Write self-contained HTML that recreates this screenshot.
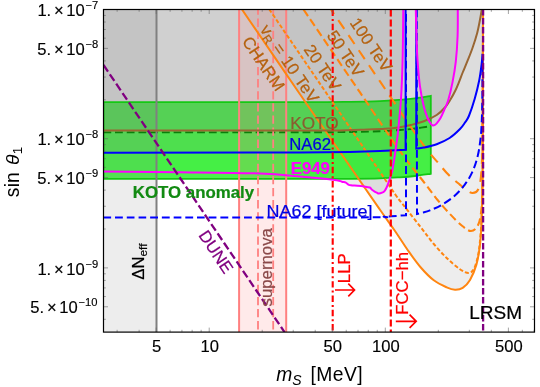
<!DOCTYPE html>
<html><head><meta charset="utf-8"><title>plot</title>
<style>html,body{margin:0;padding:0;background:#fff}svg{display:block;will-change:transform}</style></head>
<body>
<svg width="540" height="387" viewBox="0 0 540 387" font-family="'Liberation Sans', sans-serif">
<defs><clipPath id="c"><rect x="103.5" y="9.5" width="431" height="322.6"/></clipPath></defs>
<rect width="540" height="387" fill="#fff"/>
<g clip-path="url(#c)">
<g fill="#808080" fill-opacity="0.147">
<path d="M103.5 9.5L103.5 171.5C116.25 171.62 153.92 171.87 180 172.2C206.08 172.53 240 172.78 260 173.5C280 174.22 290 175.7 300 176.5C310 177.3 315.83 177.92 320 178.3C324.17 178.68 322.87 178.57 325 178.8C327.13 179.03 330.63 179.43 332.8 179.7C334.97 179.97 336.48 180.07 338 180.4C339.52 180.73 340.6 181.33 341.9 181.7C343.2 182.07 344.73 182.13 345.8 182.6C346.87 183.07 347.45 184.05 348.3 184.5C349.15 184.95 349.38 185.08 350.9 185.3C352.42 185.52 355.23 185.6 357.4 185.8C359.57 186 361.85 186.22 363.9 186.5C365.95 186.78 368.4 187 369.7 187.5C371 188 370.93 188.85 371.7 189.5C372.47 190.15 373.43 190.87 374.3 191.4C375.17 191.93 376.15 192.33 376.9 192.7C377.65 193.07 377.93 193.6 378.8 193.6C379.67 193.6 381.12 193.17 382.1 192.7C383.08 192.23 383.95 191.67 384.7 190.8C385.45 189.93 385.95 188.92 386.6 187.5C387.25 186.08 387.95 184.13 388.6 182.3C389.25 180.47 389.87 178.55 390.5 176.5C391.13 174.45 391.78 172.87 392.4 170C393.02 167.13 393.55 163.47 394.2 159.3C394.85 155.13 395.67 149.55 396.3 145C396.93 140.45 397.22 139.7 398 132C398.78 124.3 400.23 110.8 401 98.8C401.77 86.8 402.22 74.88 402.6 60C402.98 45.12 403.18 17.92 403.3 9.5Z"/>
<path d="M415.8 9.5C415.93 14.58 416.32 31.58 416.6 40C416.88 48.42 416.95 52.37 417.5 60C418.05 67.63 418.85 78.05 419.9 85.8C420.95 93.55 422.52 101.13 423.8 106.5C425.08 111.87 426.32 114.98 427.6 118C428.88 121.02 430.43 123.38 431.5 124.6C432.57 125.82 433.13 125.52 434 125.3C434.87 125.08 435.62 124.52 436.7 123.3C437.78 122.08 439.28 120.13 440.5 118C441.72 115.87 442.72 113.47 444 110.5C445.28 107.53 446.78 104.88 448.2 100.2C449.62 95.52 451.23 88.82 452.5 82.4C453.77 75.98 454.95 69.43 455.8 61.7C456.65 53.97 457.27 44.7 457.6 36C457.93 27.3 457.77 13.92 457.8 9.5Z"/>
<path d="M242 9.5C251.67 23.62 281.5 67.32 300 94.2C318.5 121.08 339.67 151.53 353 170.8C366.33 190.07 373 199.77 380 209.8C387 219.83 390.33 224.22 395 231C399.67 237.78 403.7 244.42 408 250.5C412.3 256.58 416.5 262.53 420.8 267.5C425.1 272.47 429.48 277 433.8 280.3C438.12 283.6 443.17 285.73 446.7 287.3C450.23 288.87 452.33 289.6 455 289.7C457.67 289.8 460.2 289.52 462.7 287.9C465.2 286.28 467.72 283.88 470 280C472.28 276.12 474.77 270.18 476.4 264.6C478.03 259.02 478.97 252.97 479.8 246.5C480.63 240.03 481 233.55 481.4 225.8C481.8 218.05 481.97 212.63 482.2 200C482.43 187.37 482.67 181.75 482.8 150C482.93 118.25 482.97 32.92 483 9.5Z"/>
</g>
<path d="M103.5 102.2C136.25 102.18 258.92 102.17 300 102.1C341.08 102.03 336.67 101.97 350 101.8C363.33 101.63 371.67 101.43 380 101.1C388.33 100.77 394.17 100.27 400 99.8C405.83 99.33 409.87 98.95 415 98.3C420.13 97.65 428.17 96.3 430.8 95.9L430.8 173.8C428.17 174.17 420.13 175.42 415 176C409.87 176.58 405.83 176.9 400 177.3C394.17 177.7 388.33 178.15 380 178.4C371.67 178.65 363.33 178.72 350 178.8C336.67 178.88 341.08 178.88 300 178.9C258.92 178.92 136.25 178.9 103.5 178.9Z" fill="#00f000" fill-opacity="0.71"/>
<g fill="#808080" fill-opacity="0.147">
<path d="M103.5 9.5L103.5 152.8L300 152.5L350 152L380 151.1L405.6 149.8L405.6 9.5Z"/>
<path d="M416.5 9.5L416.3 148.6C417.55 148.43 420.4 148.33 423.8 147.6C427.2 146.87 432.4 145.8 436.7 144.2C441 142.6 445.72 140.53 449.6 138C453.48 135.47 457.43 131.58 460 129C462.57 126.42 463.52 124.67 465 122.5C466.48 120.33 467.27 120 468.9 116C470.53 112 473.07 104.5 474.8 98.5C476.53 92.5 478.17 85.7 479.3 80C480.43 74.3 481.07 68.65 481.6 64.3C482.13 59.95 482.35 55.63 482.5 53.9L482.5 9.5Z"/>
<path d="M103.5 9.5L103.5 130.6C136.25 130.6 260.58 130.63 300 130.6C339.42 130.57 330 130.55 340 130.4C350 130.25 352.5 129.97 360 129.7C367.5 129.43 378.33 129.22 385 128.8C391.67 128.38 395.7 127.83 400 127.2C404.3 126.57 406.83 125.98 410.8 125C414.77 124.02 419.48 122.97 423.8 121.3C428.12 119.63 433.1 117.38 436.7 115C440.3 112.62 443.08 109.62 445.4 107C447.72 104.38 449 101.92 450.6 99.3C452.2 96.68 453.72 93.88 455 91.3C456.28 88.72 457.02 86.93 458.3 83.8C459.58 80.67 461.18 76.27 462.7 72.5C464.22 68.73 465.77 65.28 467.4 61.2C469.03 57.12 470.87 52.7 472.5 48C474.13 43.3 475.97 37.62 477.2 33C478.43 28.38 479.13 24.22 479.9 20.3C480.67 16.38 481.48 11.3 481.8 9.5Z"/>
<rect x="103.5" y="9.5" width="52.7" height="322.6"/>
</g>
<rect x="239.1" y="9.5" width="47.1" height="322.6" fill="#ff8080" fill-opacity="0.17"/>
<path d="M103.5 102.2C136.25 102.18 258.92 102.17 300 102.1C341.08 102.03 336.67 101.97 350 101.8C363.33 101.63 371.67 101.43 380 101.1C388.33 100.77 394.17 100.27 400 99.8C405.83 99.33 409.87 98.95 415 98.3C420.13 97.65 428.17 96.3 430.8 95.9L430.8 173.8C428.17 174.17 420.13 175.42 415 176C409.87 176.58 405.83 176.9 400 177.3C394.17 177.7 388.33 178.15 380 178.4C371.67 178.65 363.33 178.72 350 178.8C336.67 178.88 341.08 178.88 300 178.9C258.92 178.92 136.25 178.9 103.5 178.9Z" fill="none" stroke="#14c814" stroke-width="1.8"/>
<path d="M103.5 132.4C136.25 132.38 258.92 132.37 300 132.3C341.08 132.23 336.67 132.17 350 132C363.33 131.83 371.67 131.63 380 131.3C388.33 130.97 394.17 130.47 400 130C405.83 129.53 409.87 129.15 415 128.5C420.13 127.85 428.17 126.5 430.8 126.1" fill="none" stroke="#0a800a" stroke-width="1.9" stroke-dasharray="7.8 3.9"/>
<line x1="239.1" y1="9.5" x2="239.1" y2="332.1" stroke="#ff8080" stroke-width="2"/>
<line x1="286.2" y1="9.5" x2="286.2" y2="332.1" stroke="#ff8080" stroke-width="2"/>
<line x1="258" y1="9.5" x2="258" y2="332.1" stroke="#ff8080" stroke-width="1.8" stroke-dasharray="8.3 3.8" stroke-dashoffset="3"/>
<line x1="273.2" y1="9.5" x2="273.2" y2="332.1" stroke="#ff8080" stroke-width="1.8" stroke-dasharray="8.3 3.8" stroke-dashoffset="3"/>
<line x1="156.5" y1="9.5" x2="156.5" y2="332.1" stroke="#808080" stroke-width="2"/>
<path d="M242 9.5C251.67 23.62 281.5 67.32 300 94.2C318.5 121.08 339.67 151.53 353 170.8C366.33 190.07 373 199.77 380 209.8C387 219.83 390.33 224.22 395 231C399.67 237.78 403.7 244.42 408 250.5C412.3 256.58 416.5 262.53 420.8 267.5C425.1 272.47 429.48 277 433.8 280.3C438.12 283.6 443.17 285.73 446.7 287.3C450.23 288.87 452.33 289.6 455 289.7C457.67 289.8 460.2 289.52 462.7 287.9C465.2 286.28 467.72 283.88 470 280C472.28 276.12 474.77 270.18 476.4 264.6C478.03 259.02 478.97 252.97 479.8 246.5C480.63 240.03 481 233.55 481.4 225.8C481.8 218.05 481.97 212.63 482.2 200C482.43 187.37 482.67 181.75 482.8 150C482.93 118.25 482.97 32.92 483 9.5" fill="none" stroke="#ff8510" stroke-width="2"/>
<path d="M269.4 9.5C279.5 24.33 311.57 71.4 330 98.46C348.43 125.52 369 155.69 380 171.86C391 188.03 391.78 189.56 396 195.5C400.22 201.44 401.17 202.2 405.3 207.5C409.43 212.8 416.05 221.22 420.8 227.3C425.55 233.38 429.48 238.88 433.8 244C438.12 249.12 442.4 253.83 446.7 258C451 262.17 455.95 266.5 459.6 269C463.25 271.5 466.23 273 468.6 273C470.97 273 472.32 271.5 473.8 269C475.28 266.5 476.53 262 477.5 258C478.47 254 478.95 251 479.6 245C480.25 239 480.95 231.17 481.4 222C481.85 212.83 482.07 207 482.3 190C482.53 173 482.68 150.08 482.8 120C482.92 89.92 482.97 27.92 483 9.5" fill="none" stroke="#ff8510" stroke-width="2" stroke-dasharray="4 2.2"/>
<path d="M303.5 9.5C312.92 23.32 343.92 68.83 360 92.44C376.08 116.05 389.17 135.99 400 151.16C410.83 166.34 418.73 175.36 425 183.5C431.27 191.64 433.6 195.08 437.6 200C441.6 204.92 444.93 208.7 449 213C453.07 217.3 458.33 222.8 462 225.8C465.67 228.8 468.38 231 471 231C473.62 231 476.03 228.8 477.7 225.8C479.37 222.8 480.23 218.97 481 213C481.77 207.03 482 205.5 482.3 190C482.6 174.5 482.68 150.08 482.8 120C482.92 89.92 482.97 27.92 483 9.5" fill="none" stroke="#ff8510" stroke-width="2.1" stroke-dasharray="8 4"/>
<path d="M331 9.5C339.17 21.49 365 59.41 380 81.43C395 103.45 411 127.69 421 141.62C431 155.55 435.28 159.34 440 165C444.72 170.66 446 172.33 449.3 175.6C452.6 178.87 457.02 182.28 459.8 184.6C462.58 186.92 463.88 188.1 466 189.5C468.12 190.9 470.45 193.08 472.5 193C474.55 192.92 476.8 192.83 478.3 189C479.8 185.17 480.78 181.5 481.5 170C482.22 158.5 482.35 146.75 482.6 120C482.85 93.25 482.93 27.92 483 9.5" fill="none" stroke="#ff8510" stroke-width="2.1" stroke-dasharray="10.6 7.5" stroke-dashoffset="5"/>
<path d="M103.5 130.6C136.25 130.6 260.58 130.63 300 130.6C339.42 130.57 330 130.55 340 130.4C350 130.25 352.5 129.97 360 129.7C367.5 129.43 378.33 129.22 385 128.8C391.67 128.38 395.7 127.83 400 127.2C404.3 126.57 406.83 125.98 410.8 125C414.77 124.02 419.48 122.97 423.8 121.3C428.12 119.63 433.1 117.38 436.7 115C440.3 112.62 443.08 109.62 445.4 107C447.72 104.38 449 101.92 450.6 99.3C452.2 96.68 453.72 93.88 455 91.3C456.28 88.72 457.02 86.93 458.3 83.8C459.58 80.67 461.18 76.27 462.7 72.5C464.22 68.73 465.77 65.28 467.4 61.2C469.03 57.12 470.87 52.7 472.5 48C474.13 43.3 475.97 37.62 477.2 33C478.43 28.38 479.13 24.22 479.9 20.3C480.67 16.38 481.48 11.3 481.8 9.5" fill="none" stroke="#996633" stroke-width="2"/>
<path d="M103.5 217.5C146.25 217.48 313.08 217.55 360 217.4C406.92 217.25 377.33 216.97 385 216.6C392.67 216.23 402.5 215.43 406 215.2L406 9.5" fill="none" stroke="#0000ff" stroke-width="2" stroke-dasharray="7.8 3.9"/>
<path d="M416.7 9.5L417 214C418 213.77 420.83 213.22 423 212.6C425.17 211.98 426.92 211.57 430 210.3C433.08 209.03 437.43 207.38 441.5 205C445.57 202.62 450.52 199.4 454.4 196C458.28 192.6 461.78 188.65 464.8 184.6C467.82 180.55 470.35 176.47 472.5 171.7C474.65 166.93 476.4 161.17 477.7 156C479 150.83 479.65 145.87 480.3 140.7C480.95 135.53 481.27 131.78 481.6 125C481.93 118.22 482.15 110.83 482.3 100C482.45 89.17 482.47 66.67 482.5 60" fill="none" stroke="#0000ff" stroke-width="2" stroke-dasharray="7.8 3.9"/>
<path d="M103.5 152.8L300 152.5L350 152L380 151.1L405.6 149.8L405.6 9.5" fill="none" stroke="#0000ff" stroke-width="2" stroke-linejoin="miter"/>
<path d="M416.3 9.5L416.3 148.6C417.55 148.43 420.4 148.33 423.8 147.6C427.2 146.87 432.4 145.8 436.7 144.2C441 142.6 445.72 140.53 449.6 138C453.48 135.47 457.43 131.58 460 129C462.57 126.42 463.52 124.67 465 122.5C466.48 120.33 467.27 120 468.9 116C470.53 112 473.07 104.5 474.8 98.5C476.53 92.5 478.17 85.7 479.3 80C480.43 74.3 481.07 68.65 481.6 64.3C482.13 59.95 482.35 55.63 482.5 53.9" fill="none" stroke="#0000ff" stroke-width="2"/>
<path d="M103.5 171.5C116.25 171.62 153.92 171.87 180 172.2C206.08 172.53 240 172.78 260 173.5C280 174.22 290 175.7 300 176.5C310 177.3 315.83 177.92 320 178.3C324.17 178.68 322.87 178.57 325 178.8C327.13 179.03 330.63 179.43 332.8 179.7C334.97 179.97 336.48 180.07 338 180.4C339.52 180.73 340.6 181.33 341.9 181.7C343.2 182.07 344.73 182.13 345.8 182.6C346.87 183.07 347.45 184.05 348.3 184.5C349.15 184.95 349.38 185.08 350.9 185.3C352.42 185.52 355.23 185.6 357.4 185.8C359.57 186 361.85 186.22 363.9 186.5C365.95 186.78 368.4 187 369.7 187.5C371 188 370.93 188.85 371.7 189.5C372.47 190.15 373.43 190.87 374.3 191.4C375.17 191.93 376.15 192.33 376.9 192.7C377.65 193.07 377.93 193.6 378.8 193.6C379.67 193.6 381.12 193.17 382.1 192.7C383.08 192.23 383.95 191.67 384.7 190.8C385.45 189.93 385.95 188.92 386.6 187.5C387.25 186.08 387.95 184.13 388.6 182.3C389.25 180.47 389.87 178.55 390.5 176.5C391.13 174.45 391.78 172.87 392.4 170C393.02 167.13 393.55 163.47 394.2 159.3C394.85 155.13 395.67 149.55 396.3 145C396.93 140.45 397.22 139.7 398 132C398.78 124.3 400.23 110.8 401 98.8C401.77 86.8 402.22 74.88 402.6 60C402.98 45.12 403.18 17.92 403.3 9.5" fill="none" stroke="#ff00ff" stroke-width="2"/>
<path d="M415.8 9.5C415.93 14.58 416.32 31.58 416.6 40C416.88 48.42 416.95 52.37 417.5 60C418.05 67.63 418.85 78.05 419.9 85.8C420.95 93.55 422.52 101.13 423.8 106.5C425.08 111.87 426.32 114.98 427.6 118C428.88 121.02 430.43 123.38 431.5 124.6C432.57 125.82 433.13 125.52 434 125.3C434.87 125.08 435.62 124.52 436.7 123.3C437.78 122.08 439.28 120.13 440.5 118C441.72 115.87 442.72 113.47 444 110.5C445.28 107.53 446.78 104.88 448.2 100.2C449.62 95.52 451.23 88.82 452.5 82.4C453.77 75.98 454.95 69.43 455.8 61.7C456.65 53.97 457.27 44.7 457.6 36C457.93 27.3 457.77 13.92 457.8 9.5" fill="none" stroke="#ff00ff" stroke-width="2"/>
<line x1="332.7" y1="9.5" x2="332.7" y2="332.1" stroke="#ff0000" stroke-width="2.1" stroke-dasharray="6.4 3 2 2.9"/>
<line x1="390.8" y1="9.5" x2="390.8" y2="332.1" stroke="#ff0000" stroke-width="2.2" stroke-dasharray="6.9 3.1"/>
<path d="M103.5 65L284.5 332.1" fill="none" stroke="#800080" stroke-width="2.3" stroke-dasharray="8 3.3"/>
<line x1="483.1" y1="9.5" x2="483.1" y2="332.1" stroke="#800080" stroke-width="2.3" stroke-dasharray="6.6 2.4" stroke-dashoffset="0.6"/>
<text transform="translate(241.4 41.5) rotate(55.8)" font-size="16.8" fill="#b5620f" stroke="#b5620f" stroke-width="0.22">CHARM</text>
<text transform="translate(259.4 29.5) rotate(55.8)" font-size="16.8" fill="#b5620f" stroke="#b5620f" stroke-width="0.22">v<tspan font-size="11.8" dy="3">R</tspan><tspan dy="-3" word-spacing="0.8"> = 10 TeV</tspan></text>
<text transform="translate(303.2 49.4) rotate(55.8)" font-size="16.8" fill="#b5620f" stroke="#b5620f" stroke-width="0.22">20 TeV</text>
<text transform="translate(326.2 35.4) rotate(55.8)" font-size="16.8" fill="#b5620f" stroke="#b5620f" stroke-width="0.22">50 TeV</text>
<text transform="translate(349.2 22.7) rotate(55.8)" font-size="16.8" fill="#b5620f" stroke="#b5620f" stroke-width="0.22">100 TeV</text>
<text transform="translate(198 235.3) rotate(56)" font-size="16.8" fill="#800080" stroke="#800080" stroke-width="0.22">DUNE</text>
<text x="290.2" y="129.2" font-size="16.8" fill="#8a5c30" stroke="#8a5c30" stroke-width="0.22" textLength="48.3" lengthAdjust="spacingAndGlyphs">KOTO</text>
<text x="289.3" y="150.3" font-size="16.8" fill="#0000e0" stroke="#0000e0" stroke-width="0.22" textLength="41.8" lengthAdjust="spacingAndGlyphs">NA62</text>
<text x="290.7" y="173.5" font-size="16.8" fill="#ff00ff" stroke="#ff00ff" stroke-width="0.22" font-weight="bold" textLength="39.2" lengthAdjust="spacingAndGlyphs">E949</text>
<text x="132.8" y="197.8" font-size="16.8" fill="#128a12" stroke="#128a12" stroke-width="0.22" font-weight="bold" textLength="121.3" lengthAdjust="spacingAndGlyphs">KOTO anomaly</text>
<text x="266.5" y="216.6" font-size="16.8" fill="#0000e0" stroke="#0000e0" stroke-width="0.22" textLength="106" lengthAdjust="spacingAndGlyphs">NA62 [future]</text>
<text x="469.2" y="319.2" font-size="19" fill="#000" stroke="#000" stroke-width="0.22" textLength="52.8" lengthAdjust="spacingAndGlyphs">LRSM</text>
<text transform="translate(143.7 279.8) rotate(-90)" font-size="16.8" fill="#000" stroke="#000" stroke-width="0.22">ΔN<tspan font-size="11.8" dy="3.2">eff</tspan></text>
<text transform="translate(271.6 306.5) rotate(-90)" font-size="16.8" fill="#8a4848" stroke="#8a4848" stroke-width="0.22">supernova</text>
<text transform="translate(349.9 283.2) rotate(-90)" font-size="16.8" fill="#ff0000" stroke="#ff0000" stroke-width="0.22">LLP</text>
<text transform="translate(408.1 314.8) rotate(-90)" font-size="16.8" fill="#ff0000" stroke="#ff0000" stroke-width="0.22">FCC−hh</text>
<path d="M335 290H354M348.3 283.7L354.5 290L348.3 296.3" fill="none" stroke="#ff0000" stroke-width="1.7"/>
<path d="M395.8 321.3H415.7M409.6 314.7L416.2 321.3L409.6 327.9" fill="none" stroke="#ff0000" stroke-width="1.7"/>
</g>
<path d="M156.2 332.1v-4.5M156.2 9.5v4.5M209.21 332.1v-4.5M209.21 9.5v4.5M332.3 332.1v-4.5M332.3 9.5v4.5M385.31 332.1v-4.5M385.31 9.5v4.5M508.4 332.1v-4.5M508.4 9.5v4.5M117.13 332.1v-2.3M117.13 9.5v2.3M139.13 332.1v-2.3M139.13 9.5v2.3M170.14 332.1v-2.3M170.14 9.5v2.3M181.93 332.1v-2.3M181.93 9.5v2.3M192.15 332.1v-2.3M192.15 9.5v2.3M201.15 332.1v-2.3M201.15 9.5v2.3M262.22 332.1v-2.3M262.22 9.5v2.3M293.23 332.1v-2.3M293.23 9.5v2.3M315.23 332.1v-2.3M315.23 9.5v2.3M346.24 332.1v-2.3M346.24 9.5v2.3M358.03 332.1v-2.3M358.03 9.5v2.3M368.25 332.1v-2.3M368.25 9.5v2.3M377.25 332.1v-2.3M377.25 9.5v2.3M438.32 332.1v-2.3M438.32 9.5v2.3M469.33 332.1v-2.3M469.33 9.5v2.3M491.33 332.1v-2.3M491.33 9.5v2.3M522.34 332.1v-2.3M522.34 9.5v2.3M534.13 332.1v-2.3M534.13 9.5v2.3M103.5 48.39h4.5M534.5 48.39h-4.5M103.5 138.7h4.5M534.5 138.7h-4.5M103.5 177.59h4.5M534.5 177.59h-4.5M103.5 267.9h4.5M534.5 267.9h-4.5M103.5 306.79h4.5M534.5 306.79h-4.5M103.5 15.41h2.3M534.5 15.41h-2.3M103.5 22.02h2.3M534.5 22.02h-2.3M103.5 29.51h2.3M534.5 29.51h-2.3M103.5 38.16h2.3M534.5 38.16h-2.3M103.5 60.91h2.3M534.5 60.91h-2.3M103.5 77.06h2.3M534.5 77.06h-2.3M103.5 99.81h2.3M534.5 99.81h-2.3M103.5 144.61h2.3M534.5 144.61h-2.3M103.5 151.22h2.3M534.5 151.22h-2.3M103.5 158.71h2.3M534.5 158.71h-2.3M103.5 167.36h2.3M534.5 167.36h-2.3M103.5 190.11h2.3M534.5 190.11h-2.3M103.5 206.26h2.3M534.5 206.26h-2.3M103.5 229.01h2.3M534.5 229.01h-2.3M103.5 273.81h2.3M534.5 273.81h-2.3M103.5 280.42h2.3M534.5 280.42h-2.3M103.5 287.91h2.3M534.5 287.91h-2.3M103.5 296.56h2.3M534.5 296.56h-2.3M103.5 319.31h2.3M534.5 319.31h-2.3" fill="none" stroke="#666" stroke-width="0.6"/>
<rect x="103.5" y="9.5" width="431" height="322.6" fill="none" stroke="#000" stroke-width="1.2"/>
<text x="156.7" y="352.2" font-size="16.6" text-anchor="middle" fill="#000" stroke="#000" stroke-width="0.15">5</text>
<text x="209.71" y="352.2" font-size="16.6" text-anchor="middle" fill="#000" stroke="#000" stroke-width="0.15">10</text>
<text x="332.8" y="352.2" font-size="16.6" text-anchor="middle" fill="#000" stroke="#000" stroke-width="0.15">50</text>
<text x="385.81" y="352.2" font-size="16.6" text-anchor="middle" fill="#000" stroke="#000" stroke-width="0.15">100</text>
<text x="508.9" y="352.2" font-size="16.6" text-anchor="middle" fill="#000" stroke="#000" stroke-width="0.15">500</text>
<text y="16.1" font-size="16.6" fill="#000" stroke="#000" stroke-width="0.15"><tspan x="37.4">1.</tspan><tspan x="54">×</tspan><tspan x="66.2">10</tspan><tspan x="85.4" font-size="11.2" dy="-6.9">−7</tspan></text>
<text y="54.99" font-size="16.6" fill="#000" stroke="#000" stroke-width="0.15"><tspan x="37.2">5.</tspan><tspan x="54">×</tspan><tspan x="66.2">10</tspan><tspan x="85.4" font-size="11.2" dy="-6.9">−8</tspan></text>
<text y="145.3" font-size="16.6" fill="#000" stroke="#000" stroke-width="0.15"><tspan x="37.4">1.</tspan><tspan x="54">×</tspan><tspan x="66.2">10</tspan><tspan x="85.4" font-size="11.2" dy="-6.9">−8</tspan></text>
<text y="184.19" font-size="16.6" fill="#000" stroke="#000" stroke-width="0.15"><tspan x="37.2">5.</tspan><tspan x="54">×</tspan><tspan x="66.2">10</tspan><tspan x="85.4" font-size="11.2" dy="-6.9">−9</tspan></text>
<text y="274.5" font-size="16.6" fill="#000" stroke="#000" stroke-width="0.15"><tspan x="37.4">1.</tspan><tspan x="54">×</tspan><tspan x="66.2">10</tspan><tspan x="85.4" font-size="11.2" dy="-6.9">−9</tspan></text>
<text y="313.39" font-size="16.6" fill="#000" stroke="#000" stroke-width="0.15"><tspan x="30.3">5.</tspan><tspan x="47.1">×</tspan><tspan x="59.3">10</tspan><tspan x="78.5" font-size="11.2" dy="-6.9">−10</tspan></text>
<text x="276.3" y="381" font-size="19.3" fill="#000"><tspan font-style="italic">m</tspan><tspan font-style="italic" font-size="14" dy="4.3">S</tspan><tspan dy="-4.3" x="304.6" letter-spacing="0.45"> [MeV]</tspan></text>
<text transform="translate(19.4 197.2) rotate(-90)" font-size="19.3" fill="#000" word-spacing="1.5" letter-spacing="0.2">sin <tspan font-style="italic">θ</tspan><tspan font-size="13.5" dy="2.9">1</tspan></text>
</svg>
</body></html>
